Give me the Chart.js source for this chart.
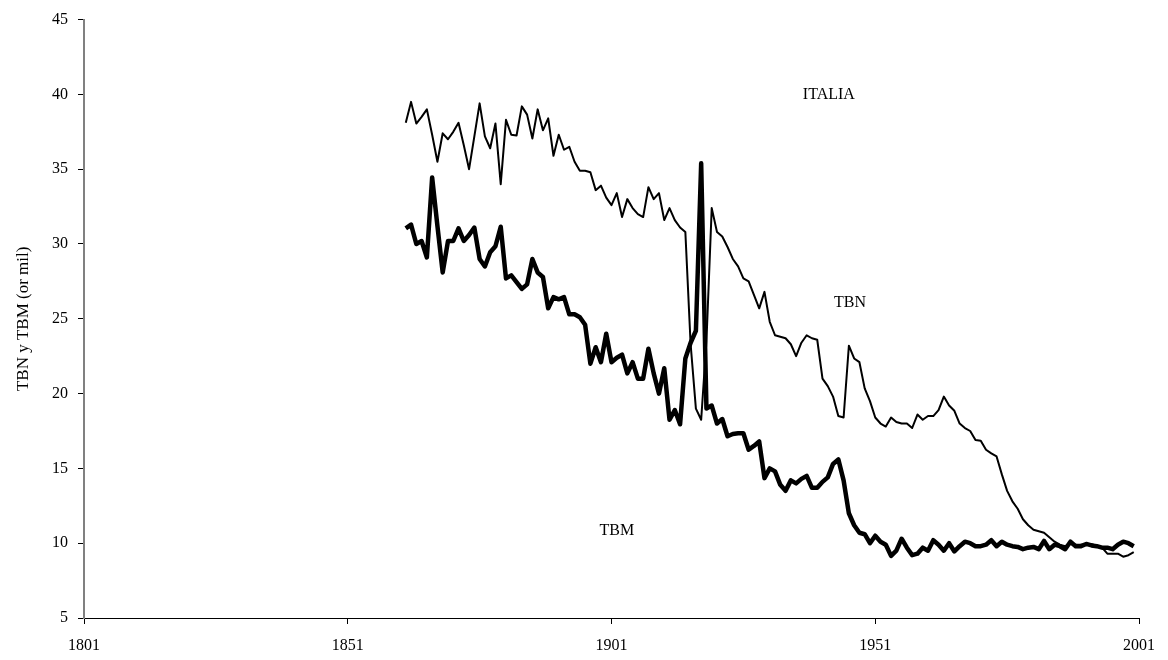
<!DOCTYPE html>
<html>
<head>
<meta charset="utf-8">
<title>ITALIA TBN y TBM</title>
<script src="https://cdn.jsdelivr.net/npm/chart.js@4.4.1/dist/chart.umd.min.js"></script>
<style>
    html, body { margin: 0; padding: 0; background: #ffffff; }
    #wrap { width: 1168px; height: 660px; }
</style>
</head>
<body>
<div id="wrap"><canvas id="chart" width="1168" height="660"></canvas></div>
<script>
// annual series, first value is 1862, last is 2000
const firstYear = 1862;

const tbn = [
    38.1, 39.5, 38.05, 38.5, 39.0, 37.3, 35.5, 37.4,
    37.0, 37.5, 38.1, 36.6, 35.0, 37.2, 39.4, 37.2, 36.4, 38.05,
    34.0, 38.3, 37.3, 37.25, 39.2, 38.65, 37.05, 39.0, 37.6, 38.4,
    35.9, 37.3, 36.3, 36.5, 35.5, 34.9, 34.9, 34.8, 33.6, 33.9,
    33.1, 32.6, 33.4, 31.8, 33.0, 32.4, 32.0, 31.8, 33.8, 33.0,
    33.4, 31.6, 32.4, 31.6, 31.1, 30.8, 23.3, 19.0, 18.25, 23.5,
    32.4, 30.8, 30.5, 29.8, 29.0, 28.5, 27.7, 27.5, 26.6, 25.7,
    26.8, 24.8, 23.9, 23.8, 23.7, 23.3, 22.5, 23.4, 23.9, 23.7,
    23.6, 21.0, 20.5, 19.8, 18.5, 18.4, 23.2, 22.35, 22.1, 20.35,
    19.5, 18.4, 18.0, 17.8, 18.4, 18.1, 18.0, 18.0, 17.7, 18.6,
    18.25, 18.5, 18.5, 18.9, 19.8, 19.2, 18.85, 18.0, 17.7, 17.5,
    16.9, 16.85, 16.25, 16.0, 15.8, 14.6, 13.5, 12.8, 12.3, 11.6,
    11.2, 10.9, 10.8, 10.7, 10.4, 10.1, 9.9, 9.8, 9.95, 9.9,
    9.9, 9.9, 9.95, 9.8, 9.7, 9.3, 9.3, 9.3, 9.1, 9.2,
    9.4
];

const tbm = [
    31.05, 31.3, 30.0, 30.2, 29.1, 34.45, 31.2, 28.1,
    30.2, 30.2, 31.05, 30.2, 30.6, 31.1, 29.0, 28.5, 29.45, 29.85,
    31.15, 27.7, 27.9, 27.45, 27.0, 27.3, 29.0, 28.1, 27.8, 25.7,
    26.45, 26.3, 26.45, 25.3, 25.3, 25.1, 24.6, 22.0, 23.1, 22.1,
    24.0, 22.1, 22.4, 22.6, 21.35, 22.1, 21.0, 21.0, 23.0, 21.35,
    20.0, 21.7, 18.25, 18.9, 17.95, 22.35, 23.4, 24.2, 35.4, 19.0,
    19.2, 18.0, 18.3, 17.15, 17.3, 17.35, 17.35, 16.25, 16.5, 16.8,
    14.35, 15.0, 14.8, 13.9, 13.5, 14.2, 14.0, 14.3, 14.5, 13.7,
    13.7, 14.1, 14.4, 15.3, 15.6, 14.2, 12.0, 11.2, 10.7, 10.6,
    10.0, 10.5, 10.1, 9.9, 9.15, 9.5, 10.3, 9.7, 9.2, 9.3,
    9.7, 9.5, 10.2, 9.9, 9.5, 10.0, 9.45, 9.8, 10.1, 10.0,
    9.8, 9.8, 9.9, 10.2, 9.8, 10.1, 9.9, 9.8, 9.75, 9.6,
    9.7, 9.75, 9.6, 10.15, 9.6, 9.9, 9.8, 9.6, 10.1, 9.8,
    9.8, 9.95, 9.85, 9.8, 9.7, 9.7, 9.6, 9.9, 10.1, 10.0,
    9.8
];

const xTicks = [1801, 1851, 1901, 1951, 2001];
const yTicks = [5, 10, 15, 20, 25, 30, 35, 40, 45];

// text written inside the plot, placed in data units
const noteText = ['ITALIA', 'TBN', 'TBM'];
const noteYear = [1942.2, 1946.2, 1902.0];
const noteValue = [40.0, 26.1, 10.8];

const serif = "'Liberation Serif', 'Times New Roman', serif";

function toPoints(values) {
    return values.map((v, i) => ({ x: firstYear + i, y: v }));
}

const notesPlugin = {
    id: 'notes',
    afterDatasetsDraw(chart) {
        const ctx = chart.ctx;
        const xs = chart.scales.x;
        const ys = chart.scales.y;
        ctx.save();
        ctx.fillStyle = '#000000';
        ctx.font = '16px ' + serif;
        ctx.textAlign = 'center';
        ctx.textBaseline = 'middle';
        noteText.forEach((t, i) => {
            ctx.fillText(t, xs.getPixelForValue(noteYear[i]), ys.getPixelForValue(noteValue[i]));
        });
        ctx.restore();
    }
};

new Chart(document.getElementById('chart').getContext('2d'), {
    type: 'line',
    data: {
        datasets: [
            {
                label: 'TBN',
                data: toPoints(tbn),
                borderColor: '#000000',
                borderWidth: 2,
                pointRadius: 0,
                tension: 0,
                borderJoinStyle: 'round'
            },
            {
                label: 'TBM',
                data: toPoints(tbm),
                borderColor: '#000000',
                borderWidth: 4.5,
                pointRadius: 0,
                tension: 0,
                borderJoinStyle: 'round'
            }
        ]
    },
    options: {
        responsive: false,
        devicePixelRatio: 1,
        animation: false,
        layout: { padding: { top: 16, right: 29, bottom: 0, left: 0 } },
        plugins: {
            legend: { display: false },
            tooltip: { enabled: false }
        },
        scales: {
            x: {
                type: 'linear',
                min: 1801,
                max: 2001,
                afterBuildTicks: (scale) => { scale.ticks = xTicks.map(v => ({ value: v })); },
                afterFit: (scale) => { scale.height = 42; },
                ticks: {
                    color: '#000000',
                    font: { family: serif, size: 16 },
                    padding: 12,
                    maxRotation: 0,
                    callback: (v) => String(v)
                },
                grid: {
                    drawOnChartArea: false,
                    drawTicks: true,
                    tickLength: 6,
                    color: '#000000'
                },
                border: { color: '#000000', width: 1 }
            },
            y: {
                min: 5,
                max: 45,
                afterBuildTicks: (scale) => { scale.ticks = yTicks.map(v => ({ value: v })); },
                afterFit: (scale) => { scale.width = 84; },
                title: {
                    display: true,
                    text: 'TBN y TBM (or mil)',
                    color: '#000000',
                    font: { family: serif, size: 17 },
                    padding: { top: 13, bottom: 0 }
                },
                ticks: {
                    color: '#000000',
                    font: { family: serif, size: 16 },
                    padding: 10,
                    callback: (v) => String(v)
                },
                grid: {
                    drawOnChartArea: false,
                    drawTicks: true,
                    tickLength: 6,
                    color: '#000000'
                },
                border: { color: '#808080', width: 2 }
            }
        }
    },
    plugins: [notesPlugin]
});
</script>
</body>
</html>
